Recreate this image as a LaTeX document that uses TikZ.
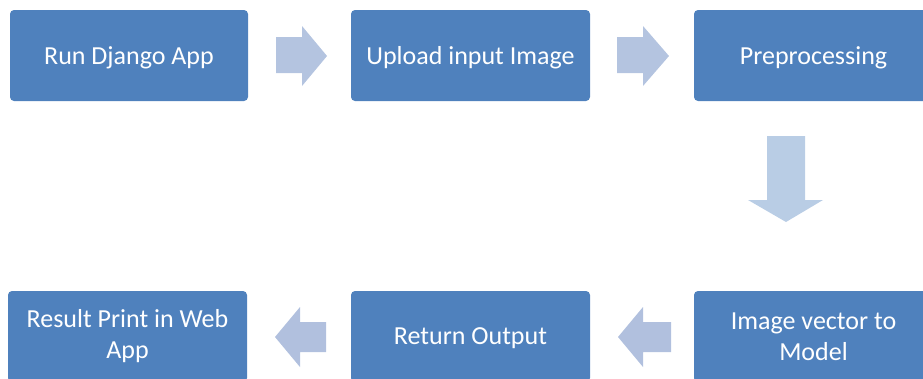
\documentclass[tikz,border=0pt]{standalone}
\usepackage{fontspec}
\setmainfont{Carlito}
\definecolor{boxblue}{HTML}{4F81BD}
\definecolor{arrR}{HTML}{B4C4E0}
\definecolor{arrD}{HTML}{B9CDE5}
\definecolor{arrL}{HTML}{B1C0DE}
\begin{document}
\begin{tikzpicture}[x=1pt,y=-1pt,
  blk/.style={rectangle, rounded corners=4pt, fill=boxblue, draw=none,
    text=white, minimum height=91pt, inner sep=0pt, align=center,
    font=\fontsize{26}{31}\selectfont},
  oneline/.style={text depth=0pt}]
\useasboundingbox (0,0) rectangle (923,378);
\node[blk, oneline, minimum width=238pt] (run) at (129,55.5) {Run Django App};
\node[blk, oneline, minimum width=239pt] (upload) at (470.5,55.5) {Upload input Image};
\node[blk, oneline, minimum width=239pt] (pre) at (813.5,55.5) {Preprocessing};
\node[blk, minimum width=239pt] (vec) at (813.5,336.5) {Image vector to\\Model};
\node[blk, oneline, minimum width=239pt] (ret) at (470.5,336.5) {Return Output};
\node[blk, minimum width=239pt] (res) at (127.5,336.5) {Result Print in Web\\App};
% block arrows
\fill[arrR] (276,37) -- (302,37) -- (302,26) -- (327,56) -- (302,86) -- (302,73) -- (276,73) -- cycle;
\fill[arrR] (617,37) -- (643,37) -- (643,26) -- (669,56) -- (643,86) -- (643,73) -- (617,73) -- cycle;
\fill[arrD] (767,136) -- (805,136) -- (805,200) -- (823,200) -- (786,222) -- (748,200) -- (767,200) -- cycle;
\fill[arrL] (618,337) -- (643,307) -- (643,322) -- (671,322) -- (671,352) -- (643,352) -- (643,367) -- cycle;
\fill[arrL] (275,337) -- (300,307) -- (300,322) -- (326,322) -- (326,352) -- (300,352) -- (300,367) -- cycle;
\end{tikzpicture}
\end{document}
